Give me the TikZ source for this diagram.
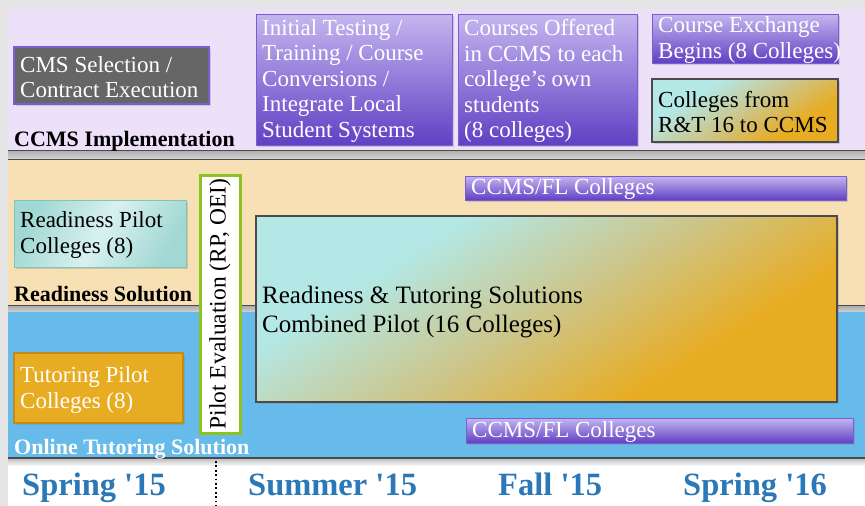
\documentclass[tikz,border=0pt]{standalone}
\usepackage{fontspec}
\setmainfont{Liberation Serif}
\usetikzlibrary{shadows}
\definecolor{outerbg}{HTML}{E4E4E4}
\definecolor{lav}{HTML}{EDE0F9}
\definecolor{tanbg}{HTML}{F8E0B5}
\definecolor{skybg}{HTML}{66BBEA}
\definecolor{seasonblue}{HTML}{2A78B7}
\definecolor{purpT}{HTML}{C4B6EF}
\definecolor{purpBot}{HTML}{6040C4}
\definecolor{purpB}{HTML}{7A5ED0}
\definecolor{cmsgray}{HTML}{666666}
\definecolor{tealA}{HTML}{A2D8D4}
\definecolor{tealB}{HTML}{D8F1EF}
\definecolor{tealB2}{HTML}{7CC6BF}
\definecolor{orng}{HTML}{E8AC22}
\definecolor{orngB}{HTML}{C28A18}
\definecolor{cyanl}{HTML}{B3E8E6}
\definecolor{midmix}{HTML}{CCC68C}
\definecolor{grn}{HTML}{8DC21F}
\definecolor{sepdark}{HTML}{4A4A4A}
\pgfdeclareverticalshading{cyor}{100bp}{color(0bp)=(orng); color(32bp)=(orng); color(50bp)=(midmix); color(68bp)=(cyanl); color(100bp)=(cyanl)}
\begin{document}
\begin{tikzpicture}[x=1pt,y=-1pt,
  box/.style={rectangle, inner sep=0pt, outer sep=0pt, line width=1pt},
  shad/.style={drop shadow={opacity=0.3, shadow xshift=1.5pt, shadow yshift=-1.5pt}},
  purp/.style={box, shad, draw=purpB, top color=purpT, bottom color=purpBot},
  mixbox/.style={box, shad, draw=sepdark, line width=1.2pt, shading=cyor, shading angle=32},
  txt/.style={anchor=west, inner sep=0pt, align=left, font=\fontsize{23}{25.5}\selectfont},
  wtxt/.style={txt, text=white},
  lab/.style={anchor=base west, inner sep=0pt, font=\bfseries\fontsize{22}{24}\selectfont},
  season/.style={anchor=base west, inner sep=0pt, text=seasonblue, font=\bfseries\fontsize{32.5}{36}\selectfont},
  sepline/.style={draw=sepdark, line width=1.4pt}
]
\useasboundingbox (0,0) rectangle (865,506);
% backgrounds
\fill[outerbg] (0,0) rectangle (865,506);
\fill[lav] (8,9) rectangle (865,150);
\shade[top color=gray!65, bottom color=gray!30] (8,150) rectangle (865,160);
\fill[tanbg] (8,160) rectangle (865,305);
\shade[top color=gray!70, bottom color=gray!35] (8,305) rectangle (865,312);
\fill[skybg] (8,312) rectangle (865,458);
\shade[top color=gray!55, bottom color=white] (8,458) rectangle (865,466);
\fill[white] (8,466) rectangle (865,506);
\draw[sepline] (8,150.5) -- (865,150.5);
\draw[sepline] (8,159.5) -- (865,159.5);
\draw[sepline] (8,305.5) -- (865,305.5);
\draw[sepline] (8,458) -- (865,458);

% section labels
\node[lab] (labccms) at (14,146) {CCMS Implementation};
\node[lab] (labready) at (14,301) {Readiness Solution};
\node[lab, text=white] (labtutor) at (14,454) {Online Tutoring Solution};

% CCMS row
\node[box, shad, fill=cmsgray, draw=purpB, line width=1.2pt, minimum width=195pt, minimum height=57pt] (cms) at (111.5,75.5) {};
\node[wtxt] (cms-t) at ([xshift=6pt,yshift=-1.5pt]cms.west) {CMS Selection /\\Contract Execution};

\node[purp, minimum width=196pt, minimum height=131pt] (init) at (354,79.5) {};
\node[wtxt] (init-t) at ([xshift=6pt,yshift=-1.5pt]init.west) {Initial Testing /\\Training / Course\\Conversions /\\Integrate Local\\Student Systems};

\node[purp, minimum width=179pt, minimum height=131pt] (offer) at (547.5,79.5) {};
\node[wtxt] (offer-t) at ([xshift=6pt,yshift=-1.5pt]offer.west) {Courses Offered\\in CCMS to each\\college’s own\\students\\(8 colleges)};

\node[purp, minimum width=186pt, minimum height=49pt] (exch) at (745,38.5) {};
\node[wtxt] (exch-t) at ([xshift=6pt,yshift=-1.5pt]exch.west) {Course Exchange\\Begins (8 Colleges)};

\node[mixbox, minimum width=186pt, minimum height=63pt] (rt) at (745,110.5) {};
\node[txt] (rt-t) at ([xshift=6pt,yshift=-1.5pt]rt.west) {Colleges from\\R\&T 16 to CCMS};

% Readiness row
\node[box, shad, draw=tealB2, left color=tealA, right color=tealA, middle color=tealB, shading angle=60, minimum width=172pt, minimum height=67pt] (ready) at (100,233.5) {};
\node[txt] (ready-t) at ([xshift=6pt,yshift=-1.5pt]ready.west) {Readiness Pilot\\Colleges (8)};

\node[purp, minimum width=381pt, minimum height=24pt] (fl1) at (655.5,188) {};
\node[wtxt] (fl1-t) at ([xshift=6pt,yshift=-1pt]fl1.west) {CCMS/FL Colleges};

% Tutoring row
\node[box, shad, fill=orng, draw=orngB, line width=1.5pt, minimum width=169pt, minimum height=70pt] (tutor) at (98.5,388) {};
\node[wtxt] (tutor-t) at ([xshift=6pt,yshift=-2pt]tutor.west) {Tutoring Pilot\\Colleges (8)};

\node[purp, minimum width=387pt, minimum height=25pt] (fl2) at (659.5,430.5) {};
\node[wtxt] (fl2-t) at ([xshift=6pt,yshift=-1pt]fl2.west) {CCMS/FL Colleges};

% combined pilot
\node[mixbox, minimum width=581pt, minimum height=186pt] (comb) at (546.5,309) {};
\node[txt, font=\fontsize{25}{29}\selectfont] (comb-t) at ([xshift=6pt,yshift=-3pt]comb.west) {Readiness \& Tutoring Solutions\\Combined Pilot (16 Colleges)};

% pilot evaluation
\node[box, shad, fill=white, draw=grn, line width=3pt, minimum width=40pt, minimum height=258pt] (pilot) at (220,304) {};
\node[inner sep=0pt, rotate=90, font=\fontsize{23.5}{25.5}\selectfont] (pilot-t) at (pilot.center) {Pilot Evaluation (RP, OEI)};

% seasons
\node[season] (s1) at (22,495) {Spring \textquotesingle15};
\node[season] (s2) at (248,495) {Summer \textquotesingle15};
\node[season] (s3) at (498,495) {Fall \textquotesingle15};
\node[season] (s4) at (683,495) {Spring \textquotesingle16};

\coordinate (d1) at (216,461);
\coordinate (d2) at (216,506);
\draw[line width=2pt, dash pattern=on 1.8pt off 2.6pt] (d1) -- (d2);
\end{tikzpicture}
\end{document}
